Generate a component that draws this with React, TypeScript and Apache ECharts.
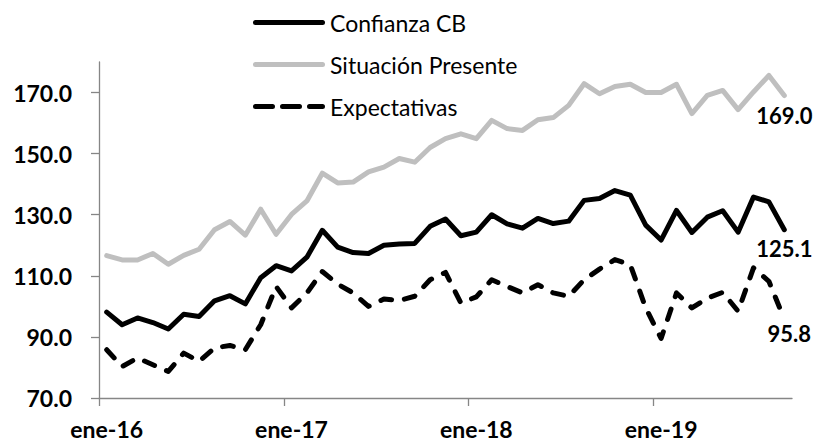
import React, { useEffect, useRef } from "react";
import * as echarts from "echarts";

const months = ["ene", "feb", "mar", "abr", "may", "jun", "jul", "ago", "sep", "oct", "nov", "dic"];
const years = ["16", "17", "18", "19"];
const categories: string[] = [];
for (const y of years) for (const m of months) categories.push(`${m}-${y}`);
const cats = categories.slice(0, 45);
const yearTickPositions = [0, 12, 24, 36];

const confianza = [
  98.1, 94.0, 96.2, 94.7, 92.6, 97.4, 96.7, 101.8, 103.5, 100.8, 109.4, 113.3,
  111.6, 116.1, 124.9, 119.4, 117.6, 117.3, 120.0, 120.4, 120.6, 126.2, 128.6, 123.1,
  124.3, 130.0, 127.0, 125.6, 128.8, 127.1, 127.9, 134.7, 135.3, 137.9, 136.4, 126.6,
  121.7, 131.4, 124.2, 129.2, 131.3, 124.3, 135.8, 134.2, 125.1,
];
const situacion = [
  116.6, 115.2, 115.2, 117.3, 113.8, 116.7, 118.7, 125.1, 127.8, 123.3, 131.8, 123.6,
  130.1, 134.5, 143.6, 140.4, 140.7, 144.0, 145.6, 148.4, 147.2, 152.0, 154.9, 156.5,
  154.9, 160.9, 158.2, 157.6, 161.1, 161.8, 165.8, 172.9, 169.6, 172.0, 172.7, 170.0,
  170.0, 172.7, 163.1, 169.1, 170.7, 164.4, 170.2, 175.6, 169.0,
];
const expectativas = [
  85.8, 80.3, 83.1, 80.9, 78.7, 84.7, 82.0, 86.4, 87.2, 85.8, 94.0, 106.5,
  99.5, 104.4, 111.4, 107.3, 104.4, 100.0, 102.4, 101.9, 103.3, 108.7, 111.1, 101.1,
  103.1, 108.7, 106.5, 104.4, 107.1, 104.4, 103.3, 108.7, 112.2, 115.3, 113.6, 99.5,
  89.5, 104.4, 99.5, 102.7, 104.6, 98.4, 112.6, 108.2, 95.8,
];

const FONT = "Lato, 'Open Sans', sans-serif";
const AXIS_GREY = "#868686";
const LINE_GREY = "#BFBFBF";

const solidIcon = "path://M2.5,0 H69.5 A2.5,2.5 0 0 1 69.5,5 H2.5 A2.5,2.5 0 0 1 2.5,0 Z";
const dashIcon =
  "path://M2.5,0 H19.5 A2.5,2.5 0 0 1 19.5,5 H2.5 A2.5,2.5 0 0 1 2.5,0 Z " +
  "M29.5,0 H46.5 A2.5,2.5 0 0 1 46.5,5 H29.5 A2.5,2.5 0 0 1 29.5,0 Z " +
  "M56.5,0 H69.5 A2.5,2.5 0 0 1 69.5,5 H56.5 A2.5,2.5 0 0 1 56.5,0 Z";

export default function App() {
  const ref = useRef<HTMLDivElement>(null);
  useEffect(() => {
    if (!ref.current) return;
    const chart = echarts.init(ref.current, undefined, { renderer: "svg" });
    const endLabel = (offset: number[]) => ({
      show: true,
      formatter: (p: any) => Number(Array.isArray(p.value) ? p.value[1] : p.value).toFixed(1),
      color: "#000",
      fontFamily: FONT,
      fontWeight: "bold" as const,
      fontSize: 22,
      align: "center" as const,
      verticalAlign: "middle" as const,
      distance: 0,
      offset,
    });
    chart.setOption({
      animation: false,
      backgroundColor: "#fff",
      textStyle: { fontFamily: FONT },
      grid: { left: 99, right: 23, top: 62, bottom: 47, containLabel: false },
      legend: {
        orient: "vertical",
        left: 253,
        top: 11,
        padding: 0,
        itemWidth: 72,
        itemHeight: 5,
        itemGap: 19,
        symbolKeepAspect: false,
        textStyle: { fontFamily: FONT, fontSize: 23, color: "#000", lineHeight: 23 },
        data: [
          { name: "Confianza CB", icon: solidIcon, itemStyle: { color: "#000" } },
          { name: "Situación Presente", icon: solidIcon, itemStyle: { color: LINE_GREY } },
          { name: "Expectativas", icon: dashIcon, itemStyle: { color: "#000" } },
        ],
      },
      xAxis: [
        {
          type: "category",
          data: cats,
          boundaryGap: true,
          axisLine: { show: true, lineStyle: { color: AXIS_GREY, width: 1.3 } },
          axisTick: { show: false },
          axisLabel: { interval: 11, margin: 19, color: "#000", fontFamily: FONT, fontWeight: "bold", fontSize: 23 },
          splitLine: { show: false },
        },
        {
          type: "value",
          position: "bottom",
          min: 0,
          max: cats.length,
          interval: 12,
          axisLine: { show: false },
          axisTick: { show: true, length: 8, customValues: yearTickPositions, lineStyle: { color: AXIS_GREY, width: 1.3 } },
          axisLabel: { show: false },
          splitLine: { show: false },
        },
      ],
      yAxis: {
        type: "value",
        min: 70,
        max: 180,
        interval: 20,
        axisLine: { show: true, lineStyle: { color: AXIS_GREY, width: 1.3 } },
        axisTick: { show: true, length: 8, customValues: [70, 90, 110, 130, 150, 170], lineStyle: { color: AXIS_GREY, width: 1.3 } },
        axisLabel: {
          margin: 27,
          color: "#000",
          fontFamily: FONT,
          fontWeight: "bold",
          fontSize: 23,
          showMaxLabel: false,
          formatter: (v: number) => (v >= 180 ? "" : v.toFixed(1)),
        },
        splitLine: { show: false },
      },
      series: [
        {
          name: "Confianza CB",
          type: "line",
          xAxisIndex: 0,
          data: confianza,
          symbol: "none",
          color: "#000",
          lineStyle: { color: "#000", width: 5, cap: "round", join: "round" },
          endLabel: endLabel([0, 19]),
          z: 3,
        },
        {
          name: "Situación Presente",
          type: "line",
          xAxisIndex: 0,
          data: situacion,
          symbol: "none",
          color: LINE_GREY,
          lineStyle: { color: LINE_GREY, width: 5, cap: "round", join: "round" },
          endLabel: endLabel([0, 20]),
          z: 2,
        },
        {
          name: "Expectativas",
          type: "line",
          xAxisIndex: 0,
          data: expectativas,
          symbol: "none",
          color: "#000",
          lineStyle: { color: "#000", width: 5, type: [11, 13], cap: "round", join: "round" },
          endLabel: endLabel([5, 14]),
          z: 3,
        },
      ],
    });
    return () => chart.dispose();
  }, []);
  return <div ref={ref} style={{ position: "fixed", left: 0, top: 0, width: 815, height: 445 }} />;
}
